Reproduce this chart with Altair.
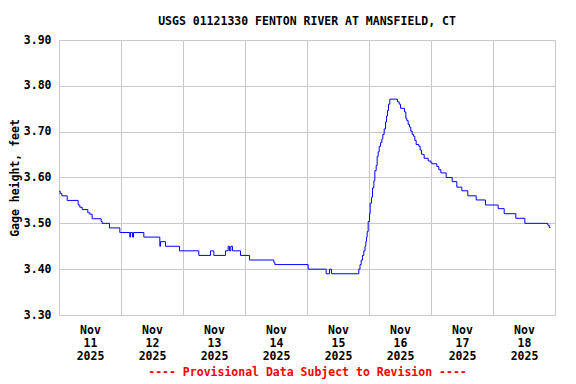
import altair as alt
import pandas as pd

# hours since 2025-11-11 00:00 and gage height (feet)
hours = [0.0, 0.45, 1.10, 3.16, 7.42, 8.06, 8.97, 11.16, 11.93, 12.84, 16.32, 16.71,
         19.55, 23.55, 27.41, 27.68, 28.45, 28.84, 32.84, 39.03, 39.29, 41.22, 46.65,
         54.13, 58.65, 59.93, 64.45, 65.48, 66.0, 66.52, 67.16, 70.26, 73.74, 83.16,
         83.55, 96.45, 103.42, 104.71, 105.48, 116.06, 116.52, 116.98, 117.49, 117.99,
         118.45, 118.77, 119.03, 119.29, 119.68, 120.19, 120.45, 120.97, 121.36, 121.87,
         122.26, 122.78, 123.16, 123.55, 123.94, 124.45, 124.97, 125.35, 125.87, 126.39,
         126.77, 127.16, 127.55, 128.06, 131.03, 131.68, 132.19, 133.74, 134.26, 134.65,
         135.16, 135.68, 136.19, 136.71, 137.23, 137.74, 138.26, 139.29, 139.81, 140.32,
         140.84, 141.36, 142.91, 143.94, 144.45, 146.26, 147.03, 147.81, 149.87, 152.2,
         154.0, 155.94, 158.26, 161.49, 165.1, 170.0, 172.33, 176.84, 180.33, 189.23,
         189.75, 190.26]
gage = [3.57, 3.565, 3.56, 3.55, 3.54, 3.535, 3.53, 3.523, 3.52, 3.51, 3.504, 3.50,
        3.49, 3.48, 3.47, 3.48, 3.47, 3.48, 3.47, 3.45, 3.46, 3.45, 3.44,
        3.43, 3.44, 3.43, 3.44, 3.45, 3.44, 3.45, 3.44, 3.43, 3.42, 3.415,
        3.41, 3.40, 3.39, 3.40, 3.39, 3.40, 3.41, 3.42, 3.43, 3.44,
        3.45, 3.46, 3.47, 3.482, 3.504, 3.521, 3.544, 3.557, 3.577, 3.593,
        3.615, 3.626, 3.646, 3.656, 3.668, 3.676, 3.684, 3.694, 3.706, 3.721,
        3.734, 3.746, 3.76, 3.771, 3.765, 3.76, 3.751, 3.743, 3.729, 3.724,
        3.716, 3.71, 3.701, 3.694, 3.69, 3.681, 3.672, 3.668, 3.66, 3.651,
        3.65, 3.642, 3.636, 3.632, 3.63, 3.624, 3.617, 3.61, 3.60, 3.591,
        3.579, 3.571, 3.56, 3.551, 3.54, 3.532, 3.521, 3.511, 3.50, 3.496,
        3.491, 3.491]

day_labels = ["11", "12", "13", "14", "15", "16", "17", "18"]
x_ticks = [0, 24, 48, 72, 96, 120, 144, 168, 192]
y_ticks = [3.3, 3.4, 3.5, 3.6, 3.7, 3.8, 3.9]

FONT = "DejaVu Sans Mono"
FS = 11.5

df = pd.DataFrame({"h": hours, "v": gage})

label_expr = ("datum.value < 192 ? ['Nov', " + str(day_labels) +
              "[round(datum.value / 24)], '2025'] : ''")

chart = alt.Chart(df).mark_line(
    interpolate="step-after", color="#0000ff", strokeWidth=1
).encode(
    x=alt.X("h:Q",
            scale=alt.Scale(domain=[0, 192], nice=False, zero=False),
            axis=alt.Axis(values=x_ticks, labelExpr=label_expr, labelOffset=31,
                          ticks=False, domain=False, grid=True,
                          gridColor="#c8c8c8", gridWidth=1,
                          labelFont=FONT, labelFontSize=FS, labelFontWeight="bold",
                          labelColor="black", labelPadding=9, labelLineHeight=13,
                          labelBaseline="top", labelAlign="center",
                          labelFlush=False, labelOverlap=False,
                          title="---- Provisional Data Subject to Revision ----",
                          titleColor="#ff0000", titleFont=FONT, titleFontSize=FS,
                          titleFontWeight="bold", titlePadding=5)),
    y=alt.Y("v:Q",
            scale=alt.Scale(domain=[3.3, 3.9], nice=False, zero=False),
            axis=alt.Axis(values=y_ticks, format=".2f", ticks=False, domain=False,
                          grid=True, gridColor="#c8c8c8", gridWidth=1,
                          labelFont=FONT, labelFontSize=FS, labelFontWeight="bold",
                          labelColor="black", labelPadding=8,
                          title="Gage height, feet", titleColor="black",
                          titleFont=FONT, titleFontSize=FS, titleFontWeight="bold",
                          titlePadding=3)),
).properties(
    width=496,
    height=275,
    title=alt.TitleParams(
        text="USGS 01121330 FENTON RIVER AT MANSFIELD, CT",
        font=FONT, fontSize=FS, fontWeight="bold", color="black",
        anchor="middle", baseline="bottom", offset=13, dy=17),
    autosize=alt.AutoSizeParams(type="none"),
    padding={"left": 51, "top": 32, "right": 13, "bottom": 64},
).configure_view(
    stroke="black", strokeWidth=1
).configure(background="white")

chart.save("out.html", embed_options={"renderer": "svg", "actions": False})
